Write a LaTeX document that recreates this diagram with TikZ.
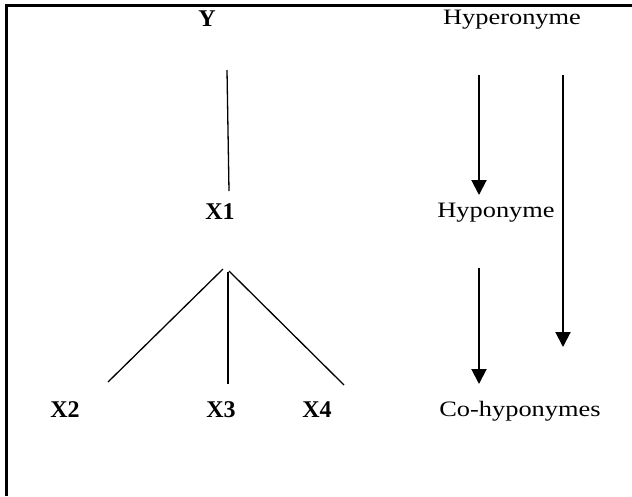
\documentclass[tikz,border=0pt]{standalone}
\usepackage{fontspec}
\setmainfont{Liberation Serif}
\newfontfamily\garafont[FakeStretch=1.2]{Liberation Serif}
\usetikzlibrary{arrows.meta}
\begin{document}
\begin{tikzpicture}[x=1pt,y=-1pt,
  boldlab/.style={inner sep=0pt,font=\fontsize{24}{28}\selectfont\bfseries},
  plainlab/.style={inner sep=0pt,font=\garafont\fontsize{22}{26}\selectfont},
  treeline/.style={line width=1.3pt},
  downarrow/.style={line width=2pt,-{Triangle[width=15pt,length=15pt]}},
  frameline/.style={line width=3pt}]
\useasboundingbox (0,0) rectangle (632,496);
\draw[frameline] (6,496) coordinate (fbl) -- (6,5) coordinate (ftl) -- (632,5) coordinate (ftr);
% labels
\node[boldlab] (Y) at (207,19) {Y};
\node[boldlab] (X1) at (220,212) {X1};
\node[boldlab] (X2) at (65,410) {X2};
\node[boldlab] (X3) at (221,410) {X3};
\node[boldlab] (X4) at (317,410) {X4};
\node[plainlab] (hyper) at (512,20) {Hyperonyme};
\node[plainlab] (hypo) at (496,213) {Hyponyme};
\node[plainlab] (cohypo) at (520,411) {Co-hyponymes};
% tree
\coordinate (yb) at (227,70);
\coordinate (x1t) at (229,191);
\coordinate (apexL) at (223,269);
\coordinate (apexM) at (228,272);
\coordinate (apexR) at (229,271);
\coordinate (endL) at (108,382);
\coordinate (endM) at (228,384);
\coordinate (endR) at (344,385);
\draw[treeline] (yb) -- (x1t);
\draw[treeline] (apexL) -- (endL);
\draw[treeline] (apexM) -- (endM);
\draw[treeline] (apexR) -- (endR);
% arrows
\coordinate (a1s) at (479,75);
\coordinate (a1e) at (479,195);
\coordinate (a2s) at (563,75);
\coordinate (a2e) at (563,347);
\coordinate (a3s) at (479,268);
\coordinate (a3e) at (479,384);
\draw[downarrow] (a1s) -- (a1e);
\draw[downarrow] (a2s) -- (a2e);
\draw[downarrow] (a3s) -- (a3e);
\end{tikzpicture}
\end{document}
